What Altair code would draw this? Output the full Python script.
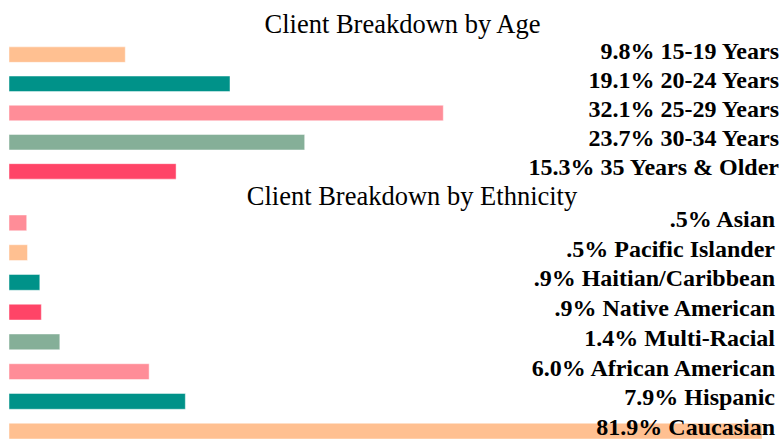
import altair as alt
import pandas as pd

# ---- data ----
age_groups = ["15-19 Years", "20-24 Years", "25-29 Years", "30-34 Years", "35 Years & Older"]
age_pct = ["9.8%", "19.1%", "32.1%", "23.7%", "15.3%"]
age_bar = [15.1, 28.7, 56.4, 38.4, 21.7]          # drawn bar length
age_colors = ["#FFC091", "#009289", "#FF8D98", "#85AF98", "#FF4467"]

eth_groups = ["Asian", "Pacific Islander", "Haitian/Caribbean", "Native American",
              "Multi-Racial", "African American", "Hispanic", "Caucasian"]
eth_pct = [".5%", ".5%", ".9%", ".9%", "1.4%", "6.0%", "7.9%", "81.9%"]
eth_bar = [2.3, 2.4, 4.0, 4.2, 6.6, 18.2, 22.9, 97.8]
eth_colors = ["#FF8D98", "#FFC091", "#009289", "#FF4467", "#85AF98", "#FF8D98", "#009289", "#FFC091"]

age_title = "Client Breakdown by Age"
eth_title = "Client Breakdown by Ethnicity"

W = 770


def panel(groups, pct, bars, colors, title, height, title_dx, title_offset, label_dx):
    df = pd.DataFrame({
        "group": groups,
        "label": [f"{p} {g}" for p, g in zip(pct, groups)],
        "value": bars,
    })
    y = alt.Y("group:N", sort=groups, axis=None,
              scale=alt.Scale(paddingInner=0.47, paddingOuter=0.235))
    base = alt.Chart(df)
    b = base.mark_bar(stroke="white", strokeOpacity=0.45, strokeWidth=1).encode(
        x=alt.X("value:Q", scale=alt.Scale(domain=[0, 100]), axis=None),
        y=y,
        color=alt.Color("group:N", scale=alt.Scale(domain=groups, range=colors), legend=None),
    )
    t = base.mark_text(align="right", baseline="alphabetic", dy=4, dx=label_dx,
                       font="Liberation Serif", fontSize=24, fontWeight="bold",
                       color="black").encode(
        x=alt.value(W), y=y, text="label:N")
    return alt.layer(b, t).resolve_scale(color="independent").properties(
        width=W, height=height,
        title=alt.TitleParams(text=title, font="Liberation Serif", fontSize=26.5,
                              fontWeight="normal", color="black", anchor="middle",
                              dx=title_dx, offset=title_offset, baseline="alphabetic"),
    )


p1 = panel(age_groups, age_pct, age_bar, age_colors, age_title, 146, 8.5, -20, 0)
p2 = panel(eth_groups, eth_pct, eth_bar, eth_colors, eth_title, 238, 18, -24, -4)

chart = alt.vconcat(p1, p2, spacing=22, bounds="flush").properties(
    padding={"left": 8, "top": 12, "right": 0, "bottom": 0},
    background="white",
).configure_view(stroke=None)

chart.save("out.html", embed_options={"renderer": "svg", "actions": False})
